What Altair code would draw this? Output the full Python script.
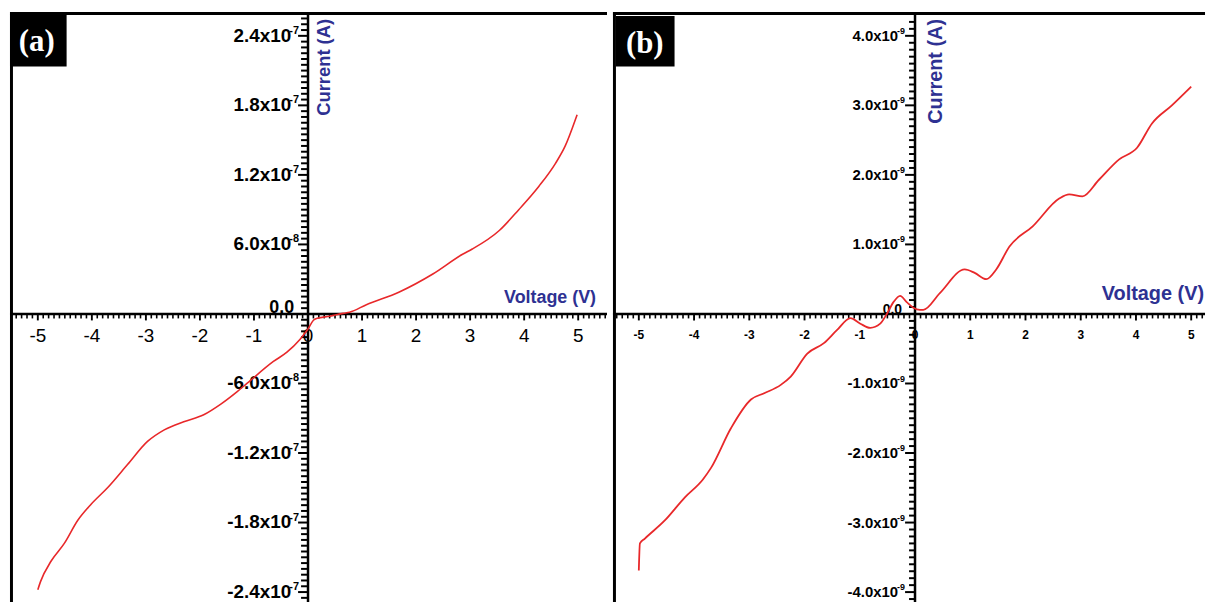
import altair as alt
import pandas as pd

# ---------------- data ----------------
# Panel (a): I-V curve
volt_a = [-5.00, -4.95, -4.75, -4.51, -4.26, -4.01, -3.71, -3.34, -2.97, -2.66,
          -2.30, -1.93, -1.62, -1.31, -1.13, -0.64, -0.39, -0.15, 0.00, 0.10,
          0.17, 0.40, 0.65, 0.77, 1.08, 1.69, 2.31, 2.86, 3.04, 3.54,
          3.90, 4.27, 4.58, 4.76, 4.95, 4.98]
curr_a = [-2.38e-7, -2.31e-7, -2.13e-7, -1.98e-7, -1.78e-7, -1.64e-7, -1.50e-7, -1.30e-7, -1.10e-7, -1.00e-7,
          -9.3e-8, -8.7e-8, -7.8e-8, -6.7e-8, -6.0e-8, -4.1e-8, -3.3e-8, -2.2e-8, -1.3e-8, -5.4e-9,
          -3.8e-9, -2.0e-9, 0.5e-9, 1.5e-9, 8.0e-9, 1.9e-8, 3.45e-8, 5.15e-8, 5.6e-8, 7.2e-8,
          9.0e-8, 1.10e-7, 1.30e-7, 1.45e-7, 1.68e-7, 1.72e-7]

# Panel (b): I-V curve
volt_b = [-5.00, -4.98, -4.89, -4.53, -4.17, -3.84, -3.69, -3.33, -2.97, -2.73,
          -2.43, -2.25, -1.95, -1.65, -1.41, -1.17, -0.99, -0.81, -0.63, -0.51,
          -0.39, -0.27, -0.15, -0.03, 0.09, 0.15, 0.45, 0.90, 1.08, 1.29,
          1.47, 1.71, 2.13, 2.61, 2.79, 3.03, 3.33, 3.69, 4.02, 4.29,
          4.65, 5.00]
curr_b = [-3.69e-9, -3.30e-9, -3.23e-9, -2.97e-9, -2.64e-9, -2.38e-9, -2.21e-9, -1.64e-9, -1.23e-9, -1.14e-9,
          -1.02e-9, -0.90e-9, -0.57e-9, -0.42e-9, -0.23e-9, -0.06e-9, -0.14e-9, -0.20e-9, -0.14e-9, 0.00e-9,
          0.17e-9, 0.26e-9, 0.17e-9, 0.09e-9, 0.06e-9, 0.06e-9, 0.30e-9, 0.64e-9, 0.59e-9, 0.50e-9,
          0.64e-9, 0.97e-9, 1.26e-9, 1.66e-9, 1.72e-9, 1.69e-9, 1.93e-9, 2.22e-9, 2.39e-9, 2.74e-9,
          3.00e-9, 3.27e-9]

# Axis ticks and labels
x_major = [-5, -4, -3, -2, -1, 0, 1, 2, 3, 4, 5]
x_labels = ["-5", "-4", "-3", "-2", "-1", "0", "1", "2", "3", "4", "5"]

ya_major = [-2.4e-7, -1.8e-7, -1.2e-7, -6.0e-8, 6.0e-8, 1.2e-7, 1.8e-7, 2.4e-7]
ya_base = ["-2.4x10", "-1.8x10", "-1.2x10", "-6.0x10", "6.0x10", "1.2x10", "1.8x10", "2.4x10"]
ya_exp = ["-7", "-7", "-7", "-8", "-8", "-7", "-7", "-7"]

yb_major = [-4e-9, -3e-9, -2e-9, -1e-9, 1e-9, 2e-9, 3e-9, 4e-9]
yb_base = ["-4.0x10", "-3.0x10", "-2.0x10", "-1.0x10", "1.0x10", "2.0x10", "3.0x10", "4.0x10"]
yb_exp = ["-9", "-9", "-9", "-9", "-9", "-9", "-9", "-9"]

zero_label = ["0.0"]

# minor tick positions (in tick steps, scaled below)
xa_minor = [k / 10 for k in range(-55, 56) if k % 10 != 0]
xb_minor = [k / 10 for k in range(-54, 53) if k % 10 != 0]
ya_minor = [round(k * 5e-9, 12) for k in range(-49, 52) if k % 12 != 0]
yb_minor = [round(k * 1e-10, 14) for k in range(-41, 43) if k % 10 != 0]

xa_domain = [-5.515, 5.533]
ya_domain = [-2.486e-7, 2.606e-7]
xb_domain = [-5.468, 5.25]
yb_domain = [-4.143e-9, 4.343e-9]

LINE_RED = "#e8282a"
BLUE = "#2e3192"
SANS = "Liberation Sans"
SERIF = "Liberation Serif"


def panel(volts, currs, xdom, ydom, width, height, xminor, ymajor, ybase, yexp, yminor, s):
    xs = alt.Scale(domain=xdom, nice=False, zero=False)
    ys = alt.Scale(domain=ydom, nice=False, zero=False)
    # tick lengths: pixels converted to data units of each scale
    ux = (xdom[1] - xdom[0]) / width
    uy = (ydom[1] - ydom[0]) / height

    def X(f="v"):
        return alt.X(f"{f}:Q", scale=xs, axis=None)

    def Y(f="c"):
        return alt.Y(f"{f}:Q", scale=ys, axis=None)

    curve = pd.DataFrame({"v": volts, "c": currs})
    base = alt.Chart(curve)
    one = pd.DataFrame({"k": [0]})

    layers = []
    # frame (left + top borders) drawn inside the plot area
    layers.append(alt.Chart(one).mark_rect(color="black")
                  .encode(x=alt.value(0), x2=alt.value(3), y=alt.value(0), y2=alt.value(height)))
    layers.append(alt.Chart(one).mark_rect(color="black")
                  .encode(x=alt.value(0), x2=alt.value(width), y=alt.value(0), y2=alt.value(3)))
    # axis lines crossing at origin
    layers.append(alt.Chart(pd.DataFrame({"v": [xdom[0]], "v2": [xdom[1]], "c": [0.0]}))
                  .mark_rule(color="black", strokeWidth=2.5)
                  .encode(x=X(), x2=alt.X2("v2:Q"), y=Y()))
    layers.append(alt.Chart(pd.DataFrame({"v": [0.0], "c": [ydom[0]], "c2": [ydom[1]]}))
                  .mark_rule(color="black", strokeWidth=2.5)
                  .encode(x=X(), y=Y(), y2=alt.Y2("c2:Q")))
    # x ticks (below axis)
    xmin_df = pd.DataFrame({"v": xminor, "c": [0.0] * len(xminor),
                            "c2": [-s["xtmin"] * uy] * len(xminor)})
    xmaj_df = pd.DataFrame({"v": x_major, "c": [0.0] * len(x_major),
                            "c2": [-s["xtmaj"] * uy] * len(x_major), "t": x_labels})
    layers.append(alt.Chart(xmin_df).mark_rule(color="black", strokeWidth=1.6)
                  .encode(x=X(), y=Y(), y2=alt.Y2("c2:Q")))
    layers.append(alt.Chart(xmaj_df).mark_rule(color="black", strokeWidth=1.9)
                  .encode(x=X(), y=Y(), y2=alt.Y2("c2:Q")))
    # y ticks (left of axis)
    ymin_df = pd.DataFrame({"v": [0.0] * len(yminor), "v2": [-s["ytmin"] * ux] * len(yminor),
                            "c": yminor, "kind": ["minor"] * len(yminor)})
    ymaj_df = pd.DataFrame({"v": [0.0] * len(ymajor), "v2": [-s["ytmaj"] * ux] * len(ymajor),
                            "c": ymajor, "b": ybase, "e": yexp})
    layers.append(alt.Chart(ymin_df).mark_rule(color="black", strokeWidth=2.0)
                  .encode(x=X(), x2=alt.X2("v2:Q"), y=Y()))
    layers.append(alt.Chart(ymaj_df).mark_rule(color="black", strokeWidth=2.0)
                  .encode(x=X(), x2=alt.X2("v2:Q"), y=Y()))
    # x tick labels
    layers.append(alt.Chart(xmaj_df).mark_text(font=SANS, fontSize=s["xfs"], fontWeight=s["xfw"],
                                                dy=s["xdy"], baseline="middle", align="center",
                                                color="black")
                  .encode(x=X(), y=Y(), text="t:N"))
    # y tick labels: mantissa and exponent
    layers.append(alt.Chart(ymaj_df).mark_text(font=SANS, fontSize=s["yfs"], fontWeight="bold",
                                                dx=s["bdx"], baseline="middle", align="right",
                                                color="black")
                  .encode(x=X("v"), y=Y(), text="b:N"))
    layers.append(alt.Chart(ymaj_df).mark_text(font=SANS, fontSize=s["efs"], fontWeight="bold",
                                                dx=s["edx"], dy=-5, baseline="middle", align="right",
                                                color="black")
                  .encode(x=X("v"), y=Y(), text="e:N"))
    # "0.0" label
    layers.append(alt.Chart(pd.DataFrame({"v": [0.0], "c": [0.0], "t": zero_label}))
                  .mark_text(font=SANS, fontSize=s["zfs"], fontWeight="bold", dx=s["zdx"], dy=s["zdy"],
                             baseline="middle", align="right", color="black")
                  .encode(x=X(), y=Y(), text="t:N"))
    # curve
    layers.append(base.mark_line(color=LINE_RED, strokeWidth=s["lw"], interpolate="monotone")
                  .encode(x=X(), y=Y()))
    # axis titles
    layers.append(alt.Chart(pd.DataFrame({"t": ["Current (A)"]}))
                  .mark_text(font=SANS, fontSize=s["tfs"], fontWeight="bold", color=BLUE,
                             angle=270, align="right", baseline="middle")
                  .encode(x=alt.value(s["cx"]), y=alt.value(7), text="t:N"))
    layers.append(alt.Chart(pd.DataFrame({"t": ["Voltage (V)"]}))
                  .mark_text(font=SANS, fontSize=s["vfs"], fontWeight="bold", color=BLUE,
                             align="right", baseline="middle")
                  .encode(x=alt.value(s["vx"]), y=alt.value(s["vy"]), text="t:N"))
    # panel tag box
    layers.append(alt.Chart(pd.DataFrame({"t": [s["tag"]]}))
                  .mark_rect(color="black")
                  .encode(x=alt.value(s["bx"][0]), x2=alt.value(s["bx"][1]),
                          y=alt.value(s["by"][0]), y2=alt.value(s["by"][1])))
    layers.append(alt.Chart(pd.DataFrame({"t": [s["tag"]]}))
                  .mark_text(font=SERIF, fontSize=31, fontWeight="bold", color="white",
                             align="center", baseline="middle")
                  .encode(x=alt.value(s["tx"]), y=alt.value(s["ty"]), text="t:N"))

    return alt.layer(*layers).properties(width=width, height=height)


style_a = dict(xfs=19, xfw="normal", xdy=22, yfs=19, efs=11, bdx=-17, edx=-9,
               zfs=18, zdx=-14, zdy=-6, lw=1.6, tfs=18.5, cx=316, vfs=18, vx=590, vy=288,
               tag="(a)", bx=(0, 57), by=(2, 55), tx=27, ty=30,
               xtmin=4.5, xtmaj=6.5, ytmin=7, ytmaj=10)
style_b = dict(xfs=12, xfw="bold", xdy=21, yfs=15, efs=9, bdx=-17, edx=-10,
               zfs=14, zdx=-13, zdy=-4, lw=1.8, tfs=20, cx=325, vfs=20, vx=595, vy=284,
               tag="(b)", bx=(3, 62), by=(4, 55), tx=32, ty=32,
               xtmin=4.5, xtmaj=6.5, ytmin=6, ytmaj=10)

pa = panel(volt_a, curr_a, xa_domain, ya_domain, 601, 594, xa_minor,
           ya_major, ya_base, ya_exp, ya_minor, style_a)
pb = panel(volt_b, curr_b, xb_domain, yb_domain, 596, 594, xb_minor,
           yb_major, yb_base, yb_exp, yb_minor, style_b)

chart = (alt.hconcat(pa, pb, spacing=2)
         .properties(padding=0, background="white")
         .configure_view(stroke=None))

chart.save("out.html", embed_options={"renderer": "svg", "actions": False})
